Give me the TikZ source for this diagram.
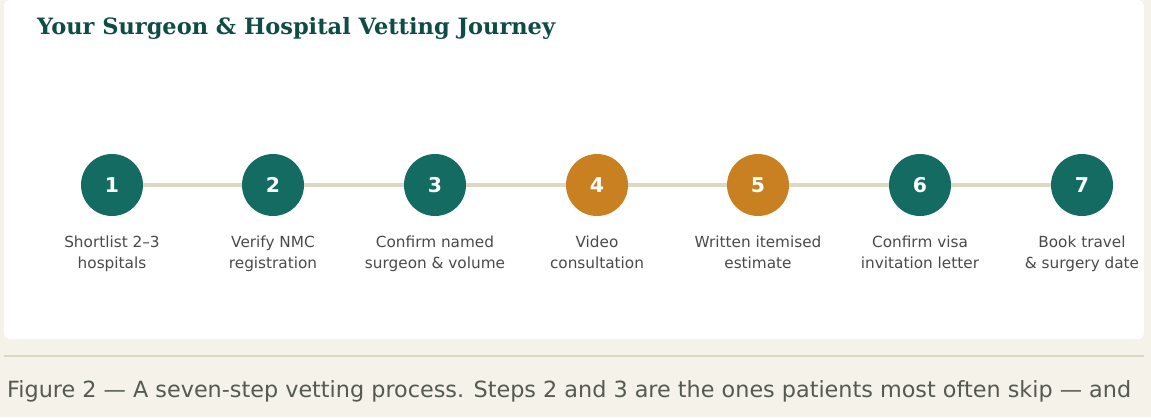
\documentclass[tikz,border=0pt]{standalone}
\usepackage{fontspec}
\setmainfont{DejaVu Sans}
\newfontfamily\titlefont{DejaVu Serif}
\usepackage{tikz}
\usetikzlibrary{positioning}
\definecolor{cream}{HTML}{F5F2EA}
\definecolor{track}{HTML}{DDD8C4}
\definecolor{teal}{HTML}{136B62}
\definecolor{amber}{HTML}{C98020}
\definecolor{deepgreen}{HTML}{0F4C45}
\definecolor{labelgrey}{HTML}{4A4A4A}
\definecolor{captiongrey}{HTML}{555A50}

\begin{document}
\begin{tikzpicture} [
            x=0.02cm, y=-0.02cm,
            % ----- Node definitions ----- %
            stepnode/.style = {
                circle,
                minimum size=1.24cm,
                inner sep=0pt,
                fill=#1,
                text=white,
                font=\fontsize{11.6}{13}\selectfont\bfseries
            },
            steplabel/.style = {
                below=0.27cm of #1,
                align=center,
                text=labelgrey,
                font=\fontsize{8.7}{12}\selectfont
            },
    ]
        % ----- Background ----- %
        \fill [cream] (0,0) rectangle (1151,417);
        \useasboundingbox (0,0) rectangle (1151,417);
        \fill [white, rounded corners=3pt] (4,0) rectangle (1144,339);
        \draw [track, line width=1.2pt] (4,356) -- (1144,356);

        \node [anchor=west, text=deepgreen, font=\titlefont\fontsize{12.8}{14}\selectfont\bfseries] (title) at (31,28) {Your Surgeon \& Hospital Vetting Journey};

        % ----- Node constructions ----- %
        \node [stepnode=teal]  (s1) at (112,185) {1};
        \node [stepnode=teal]  (s2) at (273,185) {2};
        \node [stepnode=teal]  (s3) at (435,185) {3};
        \node [stepnode=amber] (s4) at (597,185) {4};
        \node [stepnode=amber] (s5) at (758,185) {5};
        \node [stepnode=teal]  (s6) at (920,185) {6};
        \node [stepnode=teal]  (s7) at (1082,185) {7};

        \node [steplabel=s1] (l1) {Shortlist 2–3\\hospitals};
        \node [steplabel=s2] (l2) {Verify NMC\\registration};
        \node [steplabel=s3] (l3) {Confirm named\\surgeon \& volume};
        \node [steplabel=s4] (l4) {Video\\consultation};
        \node [steplabel=s5] (l5) {Written itemised\\estimate};
        \node [steplabel=s6] (l6) {Confirm visa\\invitation letter};
        \node [steplabel=s7] (l7) {Book travel\\\& surgery date};

        \node [anchor=west, text=captiongrey, font=\fontsize{12.7}{14}\selectfont] (caption) at (1,391) {Figure 2 — A seven-step vetting process. Steps 2 and 3 are the ones patients most often skip — and};

        % ----- Track behind the steps ----- %
        \begin{scope}[track, line width=2.2pt]
            \foreach \a/\b in {s1/s2, s2/s3, s3/s4, s4/s5, s5/s6, s6/s7}
                \draw (\a) -- (\b);
        \end{scope}
\end{tikzpicture}
\end{document}
